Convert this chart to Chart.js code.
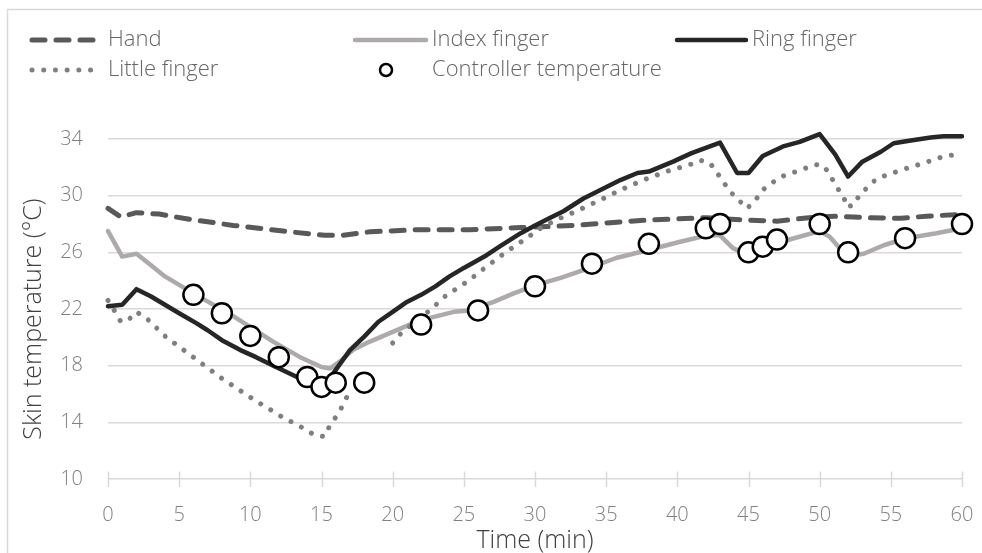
<!DOCTYPE html>
<html lang="en">
<head>
<meta charset="UTF-8">
<title>Skin temperature</title>
<script src="https://cdn.jsdelivr.net/npm/chart.js@4"></script>
<style>
  body { margin: 0; background: #fff; }
  #wrap { position: relative; width: 982px; height: 553px; }
</style>
</head>
<body>
<div id="wrap"><canvas id="chart" width="982" height="553"></canvas></div>
<script>
// time in minutes / skin temperature in °C for each series
const handTime = [0, 0.9, 2, 3.6, 5.3, 8.8, 12.3, 15.2, 16.5, 18.4, 21.9, 25.4, 29, 30.4, 32.7, 37.4, 42.1, 44.4, 47, 49.8, 51.2, 53.3, 55.7, 57.5, 59.4, 60];
const handTemp = [29.1, 28.5, 28.8, 28.7, 28.4, 27.9, 27.5, 27.2, 27.2, 27.45, 27.6, 27.6, 27.75, 27.8, 27.9, 28.25, 28.45, 28.3, 28.2, 28.5, 28.55, 28.45, 28.4, 28.55, 28.65, 28.7];

const indexTime = [0, 1, 2, 3, 4, 6, 8.8, 11.6, 13.5, 15, 15.6, 16.3, 17.2, 18.4, 20.5, 21.9, 24.3, 25.4, 27.1, 28.5, 30.1, 31.8, 33.4, 35.7, 38.1, 40.2, 42.1, 43, 43.9, 45, 46, 47.5, 50, 50.7, 51.4, 52.1, 53.1, 54.5, 56.1, 58.2, 60];
const indexTemp = [27.5, 25.7, 25.9, 25.1, 24.3, 23.1, 21.5, 19.7, 18.6, 17.9, 17.8, 18.3, 19.1, 19.7, 20.6, 21.2, 21.8, 21.9, 22.5, 23.1, 23.7, 24.2, 24.75, 25.6, 26.2, 26.75, 27.2, 27.2, 26.3, 25.8, 26.3, 26.8, 27.5, 27.1, 26.3, 25.75, 25.9, 26.5, 27.0, 27.35, 27.7];

const ringTime = [0, 1, 2, 3, 5, 6.2, 7, 8, 9.3, 10.4, 11.8, 13.5, 15, 16, 17, 18, 19, 20, 21, 22, 23, 24, 25, 26.6, 27.5, 29, 30, 31, 32, 33.4, 36, 37.2, 38, 39.7, 41, 43, 44.2, 45, 46, 47.5, 48.6, 50, 51.1, 52, 53, 54.3, 55.2, 56.4, 57.8, 58.7, 60];
const ringTemp = [22.2, 22.3, 23.4, 22.9, 21.7, 21.0, 20.5, 19.8, 19.1, 18.6, 17.9, 17.1, 16.3, 17.7, 19.1, 20.05, 21.1, 21.8, 22.5, 23.0, 23.6, 24.3, 24.9, 25.8, 26.4, 27.35, 27.9, 28.4, 28.9, 29.8, 31.1, 31.6, 31.7, 32.4, 33.0, 33.75, 31.6, 31.6, 32.8, 33.5, 33.8, 34.35, 32.9, 31.35, 32.4, 33.1, 33.7, 33.9, 34.1, 34.2, 34.2];

// null leaves the gap in the little finger record
const littleTime = [0, 0.5, 0.9, 1.4, 2, 2.7, 4.1, 6, 8, 10.1, 12.2, 13.7, 14.5, 15.2, 15.6, 16.1, 16.5, 16.9, 18.5, 20, 20.6, 22.6, 23.8, 25.2, 26.6, 28, 29.4, 30.4, 31.5, 32.9, 34.6, 36, 37.6, 39.2, 40.9, 41.6, 42.3, 42.8, 43.7, 44.9, 45.5, 46, 47.2, 48.9, 49.7, 50.3, 50.7, 51.2, 51.7, 51.9, 52.4, 52.8, 54, 55.7, 57.3, 58.8, 59.6, 60];
const littleTemp = [22.6, 21.8, 21.1, 21.2, 21.8, 21.35, 20.0, 18.6, 17.1, 15.7, 14.4, 13.6, 13.1, 13.0, 13.8, 14.5, 15.2, 16.05, null, 19.6, 20.3, 21.9, 23.0, 23.9, 25.0, 26.05, 27.0, 27.7, 28.3, 28.9, 29.7, 30.4, 31.1, 31.7, 32.2, 32.5, 32.3, 31.6, 30.3, 29.1, 29.7, 30.4, 31.3, 31.9, 32.2, 32.1, 31.5, 30.6, 29.9, 29.2, 29.35, 30.05, 31.2, 31.8, 32.3, 32.8, 32.9, 33.0];

const ctrlTime = [6, 8, 10, 12, 14, 15, 16, 18, 22, 26, 30, 34, 38, 42, 43, 45, 46, 47, 50, 52, 56, 60];
const ctrlTemp = [23.0, 21.7, 20.1, 18.6, 17.2, 16.5, 16.8, 16.8, 20.9, 21.9, 23.6, 25.2, 26.6, 27.7, 28.0, 26.0, 26.4, 26.9, 28.0, 26.0, 27.0, 28.0];

const xMin = 0, xMax = 60, xStep = 5;
const yMin = 10, yMax = 34, yStep = 4;
const yTitle = 'Skin temperature (°C)';

const FONT = "'Open Sans', 'Segoe UI', sans-serif";
const GRID = '#d9d9d9';

function pts(ts, vs) {
  return ts.map((t, i) => ({ x: t, y: vs[i] }));
}

// white background and the thin outer frame
const frame = {
  id: 'frame',
  beforeDraw(chart) {
    const ctx = chart.ctx;
    ctx.save();
    ctx.fillStyle = '#fff';
    ctx.fillRect(0, 0, chart.width, chart.height);
    ctx.strokeStyle = GRID;
    ctx.lineWidth = 1.5;
    ctx.strokeRect(7.5, 9.5, chart.width + 20, chart.height + 20);
    ctx.restore();
  }
};

// short tick marks crossing the time axis, plus the rotated y title
const axisExtras = {
  id: 'axisExtras',
  afterDraw(chart) {
    const ctx = chart.ctx, x = chart.scales.x, yb = chart.scales.y.getPixelForValue(yMin);
    ctx.save();
    ctx.strokeStyle = GRID;
    ctx.lineWidth = 1.5;
    for (let v = xMin; v <= xMax; v += xStep) {
      const px = Math.round(x.getPixelForValue(v)) + 0.5;
      ctx.beginPath();
      ctx.moveTo(px, yb - 7.5);
      ctx.lineTo(px, yb + 8);
      ctx.stroke();
    }
    ctx.translate(34, 319);
    ctx.rotate(-Math.PI / 2);
    ctx.fillStyle = '#404040';
    ctx.font = '300 25px ' + FONT;
    ctx.textAlign = 'center';
    ctx.textBaseline = 'middle';
    ctx.fillText(yTitle, 0, 0);
    ctx.restore();
  }
};

// two-row legend laid out in three columns
const legendRows = {
  id: 'legendRows',
  afterDraw(chart) {
    const ctx = chart.ctx;
    const slots = [
      { i: 0, x0: 32, x1: 95, tx: 108, y: 40 },
      { i: 1, x0: 355, x1: 426, tx: 432, y: 40 },
      { i: 2, x0: 677, x1: 746, tx: 752, y: 40 },
      { i: 3, x0: 32, x1: 97, tx: 108, y: 70 },
      { i: 4, x0: 386, x1: 386, tx: 432, y: 70 }
    ];
    ctx.save();
    for (const s of slots) {
      const ds = chart.data.datasets[s.i];
      if (ds.showLine === false) {
        ctx.beginPath();
        ctx.arc(s.x0, s.y, 6, 0, Math.PI * 2);
        ctx.fillStyle = '#fff';
        ctx.fill();
        ctx.lineWidth = 2.5;
        ctx.strokeStyle = ds.pointBorderColor;
        ctx.stroke();
      } else {
        ctx.beginPath();
        ctx.setLineDash(ds.borderDash || []);
        ctx.lineCap = 'round';
        ctx.lineWidth = ds.borderWidth;
        ctx.strokeStyle = ds.borderColor;
        ctx.moveTo(s.x0, s.y);
        ctx.lineTo(s.x1, s.y);
        ctx.stroke();
        ctx.setLineDash([]);
      }
      ctx.fillStyle = '#666';
      ctx.font = '300 22px ' + FONT;
      ctx.textBaseline = 'middle';
      ctx.textAlign = 'left';
      ctx.fillText(ds.label, s.tx, s.y);
    }
    ctx.restore();
  }
};

const lineBase = { pointRadius: 0, tension: 0, clip: false, borderCapStyle: 'round', borderJoinStyle: 'round', spanGaps: false };

new Chart(document.getElementById('chart'), {
  type: 'line',
  data: {
    datasets: [
      { ...lineBase, label: 'Hand', data: pts(handTime, handTemp), borderColor: '#595959', borderWidth: 5, borderDash: [13, 11], order: 5 },
      { ...lineBase, label: 'Index finger', data: pts(indexTime, indexTemp), borderColor: '#aeaaaa', borderWidth: 4.5, order: 4 },
      { ...lineBase, label: 'Ring finger', data: pts(ringTime, ringTemp), borderColor: '#262626', borderWidth: 4.5, order: 3 },
      { ...lineBase, label: 'Little finger', data: pts(littleTime, littleTemp), borderColor: '#7f7f7f', borderWidth: 5, borderDash: [0.01, 11.7], order: 2 },
      { label: 'Controller temperature', data: pts(ctrlTime, ctrlTemp), showLine: false, clip: false,
        pointRadius: 10, pointBorderWidth: 2.5, pointBorderColor: '#000', pointBackgroundColor: '#fff', order: 1 }
    ]
  },
  options: {
    responsive: false,
    animation: false,
    layout: { padding: { top: 139, right: 20, left: 0, bottom: 0 } },
    plugins: { legend: { display: false }, tooltip: { enabled: false } },
    scales: {
      x: {
        type: 'linear', min: xMin, max: xMax,
        ticks: { stepSize: xStep, padding: 24, color: '#808080', font: { family: FONT, size: 20, weight: '300' } },
        grid: { display: false, drawTicks: false },
        border: { display: false },
        title: { display: true, text: 'Time (min)', color: '#404040', font: { family: FONT, size: 25, weight: '300', lineHeight: 1 }, padding: { top: 0, bottom: 0 } },
        afterFit(s) { s.height = 74; s.paddingLeft = 0; s.paddingRight = 0; }
      },
      y: {
        min: yMin, max: yMax,
        ticks: { stepSize: yStep, padding: 25, color: '#808080', font: { family: FONT, size: 20, weight: '300' } },
        grid: { color: GRID, lineWidth: 1.5, drawTicks: false },
        border: { display: false },
        afterFit(s) { s.width = 108; }
      }
    }
  },
  plugins: [frame, axisExtras, legendRows]
});
</script>
</body>
</html>
